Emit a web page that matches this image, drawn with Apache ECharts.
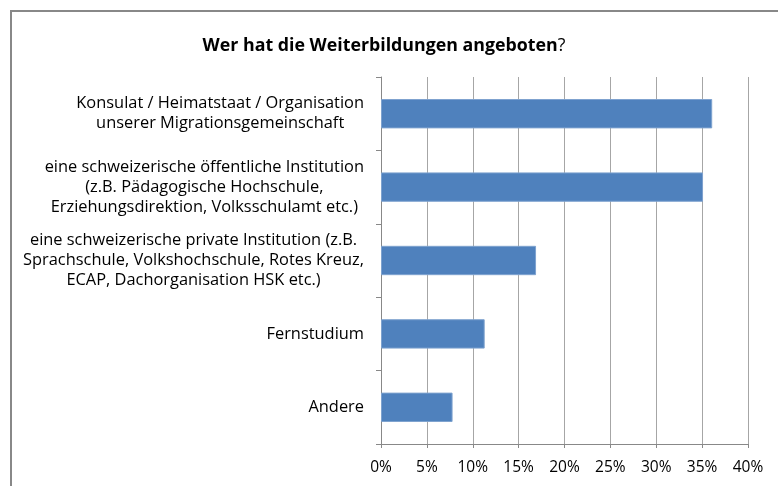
<!DOCTYPE html>
<html>
<head>
<meta charset="utf-8">
<script src="https://cdn.jsdelivr.net/npm/echarts@6/dist/echarts.min.js"></script>
<style>
  html, body { margin: 0; padding: 0; background: #fff; }
  #chart { width: 778px; height: 486px; }
</style>
</head>
<body>
<div id="chart"></div>
<script>
// Kategorien (von oben nach unten)
const categories = [
  'Konsulat / Heimatstaat / Organisation\nunserer Migrationsgemeinschaft',
  'eine schweizerische öffentliche Institution\n(z.B. Pädagogische Hochschule,\nErziehungsdirektion, Volksschulamt etc.)',
  'eine schweizerische private Institution (z.B.\nSprachschule, Volkshochschule, Rotes Kreuz,\nECAP, Dachorganisation HSK etc.)',
  'Fernstudium',
  'Andere'
];
// Anteile in %
const values = [36.1, 35.1, 16.9, 11.3, 7.8];
const xMin = 0;
const xMax = 40;
const xStep = 5;

const font = '"Open Sans", "Noto Sans", sans-serif';
const chart = echarts.init(document.getElementById('chart'));

chart.setOption({
  backgroundColor: '#fff',
  animation: false,
  title: {
    text: '{b|Wer hat die Weiterbildungen angeboten}{n|?}',
    left: 379,
    textAlign: 'center',
    top: 32,
    textStyle: {
      rich: {
        b: { fontFamily: font, fontSize: 17.8, fontWeight: 'bold', color: '#000' },
        n: { fontFamily: font, fontSize: 17.8, fontWeight: 'normal', color: '#000' }
      }
    }
  },
  graphic: [{
    type: 'rect',
    shape: { x: 11, y: 11, width: 800, height: 520 },
    style: { fill: 'none', stroke: '#888', lineWidth: 2 },
    silent: true
  }],
  grid: { left: 381, right: 30, top: 77, bottom: 42 },
  xAxis: {
    type: 'value',
    min: xMin,
    max: xMax,
    interval: xStep,
    axisLine: { show: true, lineStyle: { color: '#888', width: 1 } },
    axisTick: { show: true, length: 4, lineStyle: { color: '#888' } },
    splitLine: { show: true, lineStyle: { color: '#a6a6a6', width: 1 } },
    axisLabel: {
      formatter: v => v + '%',
      fontFamily: font,
      fontSize: 15.5,
      color: '#000',
      margin: 16
    }
  },
  yAxis: {
    type: 'category',
    data: categories,
    inverse: true,
    axisLine: { show: true, lineStyle: { color: '#888', width: 1 } },
    axisTick: { show: true, length: 5, lineStyle: { color: '#888' } },
    axisLabel: {
      margin: 17,
      align: 'right',
      formatter: s => s.split('\n').map(l => '{c|' + l + '}').join('\n'),
      rich: {
        c: { fontFamily: font, fontSize: 16.4, color: '#000', align: 'center', lineHeight: 20 }
      }
    }
  },
  series: [{
    type: 'bar',
    data: values,
    barCategoryGap: '60%',
    itemStyle: { color: '#4f81bd', borderColor: '#7ea2cf', borderWidth: 1 }
  }]
});
</script>
</body>
</html>
